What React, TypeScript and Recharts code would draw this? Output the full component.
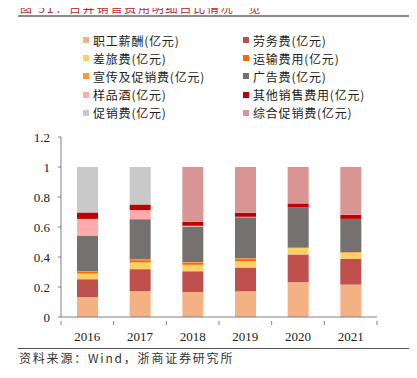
import { Bar, BarChart, XAxis, YAxis } from "recharts";

const years = ["2016", "2017", "2018", "2019", "2020", "2021"];

const salary = [0.133, 0.171, 0.166, 0.171, 0.232, 0.216];
const labor = [0.119, 0.148, 0.139, 0.159, 0.185, 0.172];
const travel = [0.038, 0.045, 0.043, 0.042, 0.045, 0.042];
const transport = [0.01, 0.015, 0.013, 0.014, 0, 0.003];
const promoAd = [0.005, 0.005, 0.005, 0.005, 0, 0];
const advertising = [0.235, 0.268, 0.237, 0.274, 0.268, 0.221];
const sampleWine = [0.114, 0.061, 0.005, 0.003, 0, 0];
const otherSales = [0.043, 0.037, 0.027, 0.027, 0.027, 0.027];
const promotion = [0.303, 0.25, 0, 0, 0, 0];
const comprehensive = [0, 0, 0.365, 0.305, 0.243, 0.319];

const yTicks = [0, 0.2, 0.4, 0.6, 0.8, 1, 1.2];

const series = [
  { key: "salary", name: "职工薪酬(亿元)", color: "#F4B183", values: salary },
  { key: "labor", name: "劳务费(亿元)", color: "#C0504D", values: labor },
  { key: "travel", name: "差旅费(亿元)", color: "#FFD066", values: travel },
  { key: "transport", name: "运输费用(亿元)", color: "#FF6600", values: transport },
  { key: "promoAd", name: "宣传及促销费(亿元)", color: "#FF9933", values: promoAd },
  { key: "advertising", name: "广告费(亿元)", color: "#767171", values: advertising },
  { key: "sampleWine", name: "样品酒(亿元)", color: "#FFABAB", values: sampleWine },
  { key: "otherSales", name: "其他销售费用(亿元)", color: "#C00000", values: otherSales },
  { key: "promotion", name: "促销费(亿元)", color: "#C9C9C9", values: promotion },
  { key: "comprehensive", name: "综合促销费(亿元)", color: "#D99594", values: comprehensive },
];

const data = years.map((year, i) => {
  const row: Record<string, string | number> = { year };
  series.forEach((s) => {
    row[s.key] = s.values[i];
  });
  return row;
});

const cjk = '"Noto Sans CJK SC", sans-serif';
const serif = '"Liberation Serif", "Times New Roman", serif';

const LegendGrid = () => (
  <div style={{ position: "absolute", left: 83, top: 32, width: 330, height: 95 }}>
    {series.map((s, i) => {
      const col = i % 2;
      const row = Math.floor(i / 2);
      return (
        <div
          key={s.key}
          style={{
            position: "absolute",
            left: col * 160,
            top: row * 18.2,
            display: "flex",
            alignItems: "center",
            height: 16,
            fontFamily: cjk,
            fontSize: 12,
            letterSpacing: 0.8,
            color: "#222",
            whiteSpace: "nowrap",
          }}
        >
          <span style={{ width: 6, height: 6, background: s.color, marginRight: 4 }} />
          {s.name}
        </div>
      );
    })}
  </div>
);

const XTick = (props: any) => {
  const { x, y, payload, index } = props;
  const half = payload?.offset ?? 26.35;
  return (
    <g>
      <line x1={x - half} y1={y - 4} x2={x - half} y2={y} stroke="#808080" />
      {index === years.length - 1 && (
        <line x1={x + half} y1={y - 4} x2={x + half} y2={y} stroke="#808080" />
      )}
      <text
        x={x}
        y={y + 7}
        dy="0.71em"
        textAnchor="middle"
        fontFamily={serif}
        fontSize={13}
        fill="#222"
      >
        {payload.value}
      </text>
    </g>
  );
};

export default function App() {
  return (
    <div style={{ position: "relative", width: 417, height: 378, margin: -8, background: "#fff" }}>
      <div
        style={{
          position: "absolute",
          left: 20,
          top: 1,
          fontFamily: cjk,
          fontSize: 12,
          lineHeight: "13px",
          letterSpacing: 1.8,
          color: "#C0272D",
          whiteSpace: "nowrap",
        }}
      >
        图 51：古井销售费用明细占比情况一览
      </div>
      <div style={{ position: "absolute", left: 18, top: 15, width: 399, height: 2, background: "#8c8c8c" }} />
      <LegendGrid />
      <div style={{ position: "absolute", left: 0, top: 0 }}>
        <BarChart
          width={417}
          height={378}
          data={data}
          margin={{ top: 137, right: 40, bottom: 31, left: 0 }}
        >
          <XAxis
            dataKey="year"
            height={30}
            axisLine={{ stroke: "#808080" }}
            tickLine={false}
            tick={<XTick />}
            interval={0}
          />
          <YAxis
            width={61}
            domain={[0, 1.2]}
            ticks={yTicks}
            axisLine={{ stroke: "#808080" }}
            tickLine={{ stroke: "#808080" }}
            tickSize={3}
            tickMargin={8}
            tick={{ fontFamily: serif, fontSize: 13, fill: "#222" }}
          />
          {series.map((s) => (
            <Bar
              key={s.key}
              dataKey={s.key}
              name={s.name}
              stackId="a"
              fill={s.color}
              barSize={21}
              isAnimationActive={false}
            />
          ))}
        </BarChart>
      </div>
      <div style={{ position: "absolute", left: 18, top: 348, width: 399, height: 1, background: "#555" }} />
      <div
        style={{
          position: "absolute",
          left: 19,
          top: 350,
          fontFamily: cjk,
          fontSize: 12,
          lineHeight: "16px",
          letterSpacing: 1.8,
          color: "#333",
          whiteSpace: "nowrap",
        }}
      >
        资料来源：Wind，浙商证券研究所
      </div>
    </div>
  );
}
